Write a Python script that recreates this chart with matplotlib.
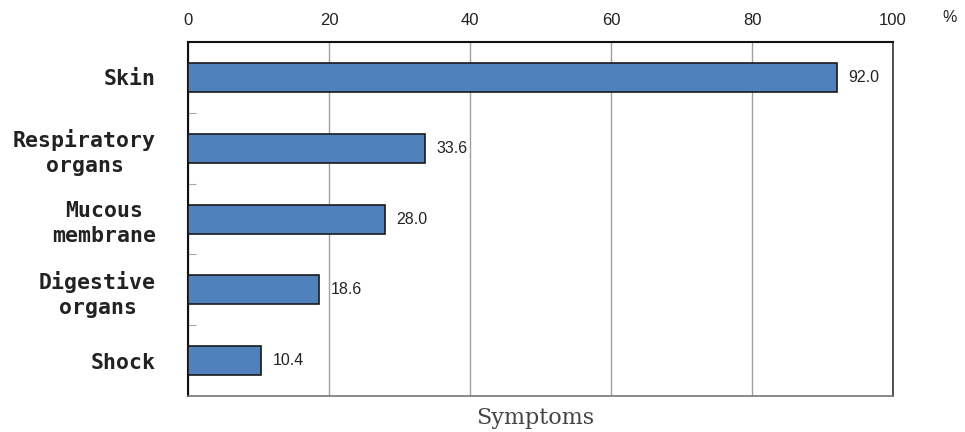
import matplotlib
matplotlib.use("Agg")
import matplotlib.pyplot as plt
from matplotlib.ticker import FixedLocator

categories = ["Skin", "Respiratory\norgans", "Mucous\nmembrane", "Digestive\norgans", "Shock"]
values = [92.0, 33.6, 28.0, 18.6, 10.4]
x_ticks = [0, 20, 40, 60, 80, 100]

fig = plt.figure(figsize=(9.65, 4.32), dpi=100)
ax = fig.add_axes([0.1948, 0.0833, 0.7306, 0.8194])

pos = list(range(len(categories)))
ax.barh(pos, values, height=0.41, color="#4F81BD", edgecolor="#1a1a1a", linewidth=1.2, zorder=3)
ax.set_ylim(len(categories) - 0.5, -0.5)
ax.set_xlim(0, 100)

for p, v in zip(pos, values):
    ax.text(v + 1.6, p, f"{v:.1f}", va="center", ha="left", fontsize=11.5,
            family="Liberation Sans", color="#222222")

ax.xaxis.tick_top()
ax.set_xticks(x_ticks)
ax.set_xticklabels([str(t) for t in x_ticks], fontsize=12, family="Liberation Sans", color="#222222")
ax.tick_params(axis="x", length=0, pad=10)
ax.grid(axis="x", color="#a0a0a0", linewidth=1.0, zorder=0)

ax.set_yticks(pos)
ax.set_yticklabels(categories, fontsize=15.5, fontweight="bold", family="DejaVu Sans Mono",
                   multialignment="center", color="#222222", linespacing=1.3)
ax.tick_params(axis="y", which="major", length=0, pad=23)
ax.yaxis.set_minor_locator(FixedLocator([0.5, 1.5, 2.5, 3.5]))
ax.tick_params(axis="y", which="minor", direction="in", length=6, width=0.8, color="#aaaaaa")

for side, sp in ax.spines.items():
    sp.set_linewidth(1.5 if side in ("left", "top") else 1.2)
    sp.set_color("#111111")
ax.spines["right"].set_color("#333333")
ax.spines["bottom"].set_color("#777777")

fig.text(950 / 965, 1 - 18 / 432, "%", ha="center", va="center", fontsize=11.5,
         family="Liberation Sans", color="#222222")
fig.text(535 / 965, 1 - 418 / 432, "Symptoms", ha="center", va="center", fontsize=16,
         family="DejaVu Serif", color="#444444")

fig.savefig("out.png", dpi=100)
